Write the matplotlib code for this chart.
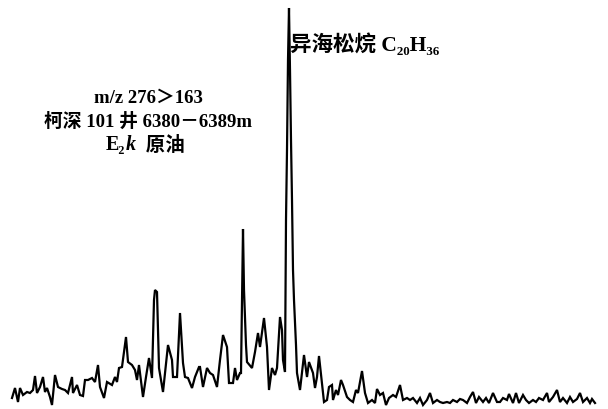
import matplotlib
matplotlib.use("Agg")
import matplotlib.pyplot as plt

# scan position (left to right) and detector response
scan = [12, 15, 18, 20, 23, 27, 30, 33, 35, 37, 40, 43, 45, 47, 50, 52, 55, 58, 62, 65,
        68, 72, 73, 77, 80, 83, 85, 88, 92, 95, 98, 100, 104, 107, 112, 115, 117, 119, 122, 126,
        128, 132, 135, 137, 139, 143, 146, 149, 152, 154, 155, 157, 158, 159, 163, 168, 172, 173, 177, 180,
        183, 185, 188, 192, 195, 199,
        200, 203, 207, 210, 213, 217, 220, 223, 227, 229, 233, 235, 237, 240, 241, 243, 244, 246, 247, 252,
        255, 258, 260, 264, 267, 269, 272, 275, 277, 280, 282, 283, 285, 286, 287, 288, 289, 290, 291, 292,
        293, 294, 296, 297, 300,
        304, 307, 309, 313, 315, 317, 319, 322, 324, 327, 329, 332, 333, 336, 338, 341, 343, 347, 350, 353,
        356, 358, 362, 365, 368, 372, 375, 377, 380, 383, 386, 389, 393, 396, 400, 403, 407,
        410, 413, 417, 420, 423, 427, 430, 433, 437, 440, 443, 447, 450, 453, 457, 460, 463, 467, 470, 473,
        476, 479, 483, 486, 489, 493, 497,
        500, 503, 507, 509, 513, 516, 519, 523, 526, 529, 533, 536, 539, 543, 547, 549, 553, 557, 560, 563,
        567, 570, 573, 577, 580, 583, 587, 590, 592, 595]

signal = [11, 21, 7, 21, 14, 17, 16, 19, 33, 16, 22, 32, 17, 21, 12, 4, 34, 22, 20, 19,
          16, 32, 16, 24, 14, 13, 29, 29, 31, 27, 44, 22, 11, 27, 24, 32, 27, 41, 42, 72,
          47, 44, 39, 29, 44, 12, 32, 51, 31, 109, 119, 117, 79, 41, 17, 64, 49, 32, 32, 96,
          46, 32, 31, 21, 32, 42,
          42, 22, 41, 36, 34, 22, 49, 74, 62, 26, 26, 41, 29, 36, 36, 180, 119, 64, 47, 41,
          57, 76, 62, 91, 62, 19, 41, 34, 41, 92, 79, 49, 37, 189, 259, 349, 401, 339, 269, 209,
          139, 109, 64, 36, 19,
          54, 32, 47, 36, 21, 32, 53, 26, 7, 9, 22, 24, 9, 19, 14, 29, 24, 12, 9, 7,
          19, 16, 38, 16, 6, 9, 6, 20, 14, 16, 4, 11, 14, 12, 24, 9, 11,
          9, 11, 6, 11, 4, 9, 16, 6, 9, 7, 6, 7, 6, 9, 7, 10, 9, 6, 12, 17,
          6, 12, 7, 11, 6, 16, 7,
          7, 11, 9, 15, 6, 16, 6, 14, 9, 6, 9, 7, 11, 9, 16, 7, 12, 19, 7, 11,
          6, 12, 7, 10, 16, 7, 11, 6, 10, 6]

peak_label = "异海松烷 C₂₀H₃₆"
info_lines = ["m/z 276＞163", "柯深 101 井 6380－6389m"]

fam = ["Liberation Serif", "Noto Sans CJK SC", "DejaVu Serif"]

fig = plt.figure(figsize=(6.08, 4.09), dpi=100)
ax = fig.add_axes([0, 0, 1, 1])
ax.plot(scan, signal, color="black", lw=1.6, solid_joinstyle="miter")
ax.set_xlim(0, 608)
ax.set_ylim(0, 409)
ax.axis("off")

ax.text(290, 364, peak_label, family=fam, fontsize=15.5, fontweight="bold",
        ha="left", va="center")
ax.text(148, 311, info_lines[0], family=fam, fontsize=13.5, fontweight="bold",
        ha="center", va="center")
ax.text(148, 287, info_lines[1], family=fam, fontsize=13.5, fontweight="bold",
        ha="center", va="center")

# third line: E2 + italic k + 原油
t1 = ax.text(106, 254, "E₂", family=fam, fontsize=14.5, fontweight="bold",
             ha="left", va="bottom")
t2 = ax.annotate("k", xy=(1, 0), xycoords=t1, family=fam, fontsize=14.5,
                 style="italic", fontweight="bold", ha="left", va="bottom")
ax.annotate("  原油", xy=(1, 0), xycoords=t2, family=fam, fontsize=14,
            fontweight="bold", ha="left", va="bottom")

fig.savefig("out.png", dpi=100)
